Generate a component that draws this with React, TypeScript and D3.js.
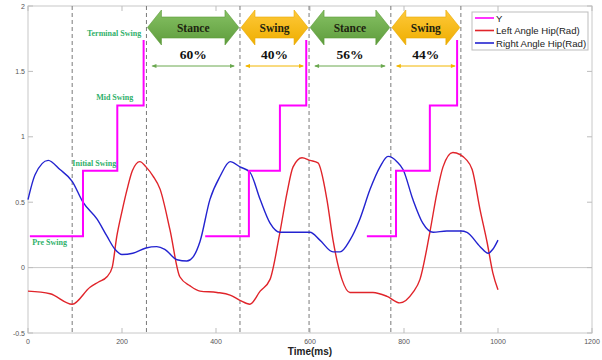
import { useEffect, useRef } from "react"
import * as d3 from "d3"

// Left hip angle (rad) vs time (ms)
const leftTime = [0, 47, 94, 132, 150, 168, 179, 189, 200, 211, 222, 238, 251, 266, 281, 302, 323, 345, 366, 402, 430, 451, 472, 494, 515, 536, 551, 564, 583, 600, 617, 636, 649, 668, 685, 710, 734, 764, 791, 819, 834, 855, 870, 883, 904, 934, 945, 962, 977, 989, 1000]
const leftHip = [-0.18, -0.2, -0.28, -0.15, -0.11, -0.07, 0.0, 0.24, 0.43, 0.6, 0.74, 0.81, 0.77, 0.7, 0.6, 0.29, -0.07, -0.14, -0.18, -0.19, -0.21, -0.25, -0.28, -0.18, -0.09, 0.27, 0.57, 0.77, 0.84, 0.82, 0.8, 0.52, 0.21, -0.09, -0.19, -0.19, -0.19, -0.22, -0.27, -0.19, -0.09, 0.27, 0.57, 0.77, 0.88, 0.82, 0.75, 0.44, 0.19, -0.04, -0.17]

// Right hip angle (rad) vs time (ms)
const rightTime = [0, 15, 43, 68, 94, 117, 147, 168, 185, 200, 223, 251, 274, 291, 317, 338, 351, 366, 387, 409, 430, 451, 472, 494, 515, 536, 572, 600, 621, 649, 664, 685, 706, 728, 749, 766, 785, 798, 819, 840, 862, 891, 921, 934, 962, 979, 989, 1000]
const rightHip = [0.52, 0.71, 0.82, 0.75, 0.66, 0.5, 0.37, 0.24, 0.14, 0.1, 0.11, 0.15, 0.16, 0.14, 0.06, 0.05, 0.08, 0.2, 0.52, 0.7, 0.81, 0.77, 0.73, 0.52, 0.34, 0.27, 0.27, 0.27, 0.21, 0.12, 0.12, 0.21, 0.37, 0.6, 0.77, 0.85, 0.81, 0.75, 0.52, 0.34, 0.27, 0.28, 0.28, 0.27, 0.16, 0.11, 0.14, 0.21]

// Y (gait phase step signal): switch times of each cycle and the step levels
const yCycles = [
  [4, 117, 190, 246],
  [377, 470, 536, 592],
  [721, 783, 855, 913],
]
const yLevels = [0.24, 0.74, 1.24, 1.74]

// Event markers and phase annotations
const eventTimes = [94, 252, 451, 598, 772, 921]
const phaseNames = ["Stance", "Swing", "Stance", "Swing"]
const phasePercents = ["60%", "40%", "56%", "44%"]

const xTicks = [0, 200, 400, 600, 800, 1000, 1200]
const yTicks = [-0.5, 0, 0.5, 1, 1.5, 2]

export default function App() {
  const svgRef = useRef<SVGSVGElement>(null)

  useEffect(() => {
    if (!svgRef.current) return
    const W = 602
    const H = 360
    const margin = { top: 6, right: 10, bottom: 27, left: 28 }

    d3.select(svgRef.current).selectAll("*").remove()
    const svg = d3.select(svgRef.current).attr("width", W).attr("height", H)

    const x = d3.scaleLinear().domain([0, 1200]).range([margin.left, W - margin.right])
    const y = d3.scaleLinear().domain([-0.5, 2]).range([H - margin.bottom, margin.top])

    const defs = svg.append("defs")
    const gGreen = defs.append("linearGradient").attr("id", "gGreen").attr("x1", 0).attr("y1", 0).attr("x2", 0).attr("y2", 1)
    gGreen.append("stop").attr("offset", "0%").attr("stop-color", "#86c164")
    gGreen.append("stop").attr("offset", "100%").attr("stop-color", "#5e9c3c")
    const gYellow = defs.append("linearGradient").attr("id", "gYellow").attr("x1", 0).attr("y1", 0).attr("x2", 0).attr("y2", 1)
    gYellow.append("stop").attr("offset", "0%").attr("stop-color", "#ffc93a")
    gYellow.append("stop").attr("offset", "100%").attr("stop-color", "#eeae00")

    // Plot frame
    svg.append("rect")
      .attr("x", x(0)).attr("y", y(2))
      .attr("width", x(1200) - x(0)).attr("height", y(-0.5) - y(2))
      .attr("fill", "white").attr("stroke", "#c8c8c8").attr("stroke-width", 1)

    // Zero line
    svg.append("line")
      .attr("x1", x(0)).attr("x2", x(1200)).attr("y1", y(0)).attr("y2", y(0))
      .attr("stroke", "#c8c8c8").attr("stroke-width", 1)

    // Ticks (inward)
    const ticks = svg.append("g").attr("stroke", "#bdbdbd").attr("stroke-width", 1)
    xTicks.forEach((t) => {
      ticks.append("line").attr("x1", x(t)).attr("x2", x(t)).attr("y1", y(-0.5)).attr("y2", y(-0.5) - 5)
      ticks.append("line").attr("x1", x(t)).attr("x2", x(t)).attr("y1", y(2)).attr("y2", y(2) + 5)
    })
    yTicks.forEach((t) => {
      ticks.append("line").attr("x1", x(0)).attr("x2", x(0) + 5).attr("y1", y(t)).attr("y2", y(t))
      ticks.append("line").attr("x1", x(1200)).attr("x2", x(1200) - 5).attr("y1", y(t)).attr("y2", y(t))
    })

    const labelFont = "'Liberation Sans', Arial, sans-serif"
    svg.append("g").selectAll("text").data(xTicks).enter().append("text")
      .attr("x", (d) => x(d)).attr("y", y(-0.5) + 11)
      .attr("text-anchor", "middle").attr("font-family", labelFont).attr("font-size", 7)
      .attr("fill", "#555").text((d) => String(d))
    svg.append("g").selectAll("text").data(yTicks).enter().append("text")
      .attr("x", x(0) - 3).attr("y", (d) => y(d) + 2.5)
      .attr("text-anchor", "end").attr("font-family", labelFont).attr("font-size", 7)
      .attr("fill", "#555").text((d) => String(d))

    svg.append("text")
      .attr("x", x(600)).attr("y", H - 5)
      .attr("text-anchor", "middle").attr("font-family", labelFont).attr("font-size", 10)
      .attr("font-weight", "bold").attr("fill", "#222").text("Time(ms)")

    // Event dashed lines
    svg.append("g").selectAll("line").data(eventTimes).enter().append("line")
      .attr("x1", (d) => x(d)).attr("x2", (d) => x(d))
      .attr("y1", y(2)).attr("y2", y(-0.5))
      .attr("stroke", "#7a7a7a").attr("stroke-width", 1).attr("stroke-dasharray", "4,3")

    // Curves
    const line = d3.line<[number, number]>().x((d) => x(d[0])).y((d) => y(d[1])).curve(d3.curveMonotoneX)
    svg.append("path")
      .attr("d", line(leftTime.map((t, i) => [t, leftHip[i]] as [number, number])))
      .attr("fill", "none").attr("stroke", "#e0242a").attr("stroke-width", 1.4)
    svg.append("path")
      .attr("d", line(rightTime.map((t, i) => [t, rightHip[i]] as [number, number])))
      .attr("fill", "none").attr("stroke", "#2323d0").attr("stroke-width", 1.4)

    const step = d3.line<[number, number]>().x((d) => x(d[0])).y((d) => y(d[1])).curve(d3.curveStepAfter)
    yCycles.forEach((cyc) => {
      svg.append("path")
        .attr("d", step(cyc.map((t, i) => [t, yLevels[i]] as [number, number])))
        .attr("fill", "none").attr("stroke", "#ff00ff").attr("stroke-width", 2)
    })

    // Gait phase labels
    const serif = "'Liberation Serif', 'Times New Roman', serif"
    const phaseLabel = (txt: string, px: number, py: number, anchor: string) =>
      svg.append("text").attr("x", px).attr("y", py).attr("text-anchor", anchor)
        .attr("font-family", serif).attr("font-size", 8).attr("font-weight", "bold")
        .attr("fill", "#2fb06a").text(txt)
    phaseLabel("Terminal Swing", x(245) - 2, y(1.77), "end")
    phaseLabel("Mid Swing", x(224), y(1.28), "end")
    phaseLabel("Initial Swing", x(141), y(0.78), "middle")
    phaseLabel("Pre Swing", x(9), y(0.17), "start")

    // Phase block arrows
    const ac = 27.5
    const headH = 17.5
    const bodyH = 10.5
    const headL = 14
    for (let i = 0; i < phaseNames.length; i++) {
      const x1 = x(eventTimes[i + 1]) + 1
      const x2 = x(eventTimes[i + 2]) - 1
      const pts: [number, number][] = [
        [x1, ac], [x1 + headL, ac - headH], [x1 + headL, ac - bodyH], [x2 - headL, ac - bodyH],
        [x2 - headL, ac - headH], [x2, ac], [x2 - headL, ac + headH], [x2 - headL, ac + bodyH],
        [x1 + headL, ac + bodyH], [x1 + headL, ac + headH],
      ]
      const isStance = phaseNames[i] === "Stance"
      svg.append("polygon")
        .attr("points", pts.map((p) => p.join(",")).join(" "))
        .attr("fill", isStance ? "url(#gGreen)" : "url(#gYellow)")
        .attr("stroke", isStance ? "#5a9a38" : "#e8a800").attr("stroke-width", 0.6)
      svg.append("text")
        .attr("x", (x1 + x2) / 2).attr("y", ac + 4)
        .attr("text-anchor", "middle").attr("font-family", serif).attr("font-size", 11.5)
        .attr("font-weight", "bold").attr("fill", "#1e2410").text(phaseNames[i])
      svg.append("text")
        .attr("x", (x1 + x2) / 2).attr("y", 59)
        .attr("text-anchor", "middle").attr("font-family", serif).attr("font-size", 13.5)
        .attr("font-weight", "bold").attr("fill", "#111").text(phasePercents[i])

      // thin double-headed arrow
      const c = isStance ? "#6aa84f" : "#f2b600"
      const ty = 66
      const l1 = x1 + 5
      const l2 = x2 - 5
      svg.append("line").attr("x1", l1).attr("x2", l2).attr("y1", ty).attr("y2", ty)
        .attr("stroke", c).attr("stroke-width", 1)
      svg.append("polygon").attr("points", `${l1 - 1},${ty} ${l1 + 4},${ty - 2} ${l1 + 4},${ty + 2}`).attr("fill", c)
      svg.append("polygon").attr("points", `${l2 + 1},${ty} ${l2 - 4},${ty - 2} ${l2 - 4},${ty + 2}`).attr("fill", c)
    }

    // Legend
    const lg = svg.append("g")
    lg.append("rect").attr("x", 472).attr("y", 12).attr("width", 116).attr("height", 38)
      .attr("fill", "white").attr("stroke", "#bdbdbd").attr("stroke-width", 1)
    const legendItems = [
      { name: "Y", color: "#ff00ff" },
      { name: "Left Angle Hip(Rad)", color: "#e0242a" },
      { name: "Right Angle Hip(Rad)", color: "#2323d0" },
    ]
    legendItems.forEach((it, i) => {
      const ly = 18 + i * 12.5
      lg.append("line").attr("x1", 475).attr("x2", 494).attr("y1", ly).attr("y2", ly)
        .attr("stroke", it.color).attr("stroke-width", 1.6)
      lg.append("text").attr("x", 496).attr("y", ly + 3.5)
        .attr("font-family", labelFont).attr("font-size", 9.6).attr("fill", "#222").text(it.name)
    })
  }, [])

  return (
    <div style={{ position: "absolute", left: 0, top: 0, background: "white" }}>
      <svg ref={svgRef} />
    </div>
  )
}
